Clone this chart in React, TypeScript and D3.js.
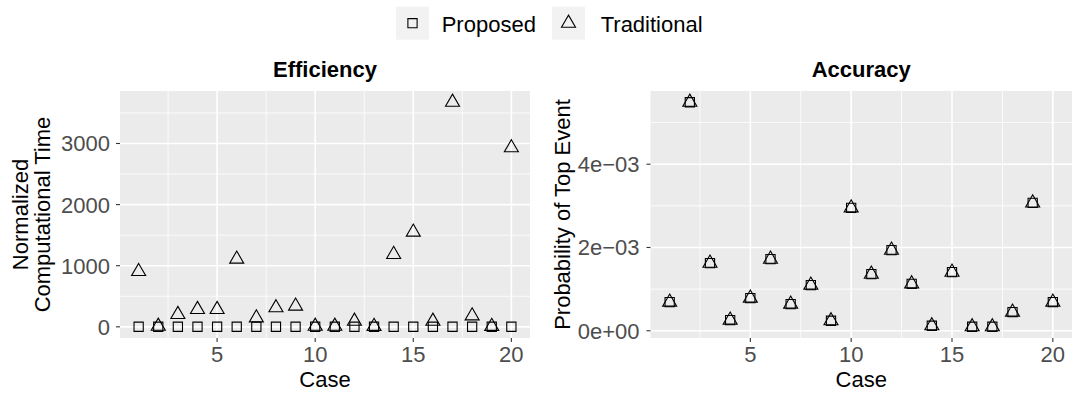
import React from 'react'
import * as d3 from 'd3'

const FONT = '"Liberation Sans", Arial, Helvetica, sans-serif'
const WIDTH = 1072
const HEIGHT = 395

// case numbers shared by both panels
const cases = [1, 2, 3, 4, 5, 6, 7, 8, 9, 10, 11, 12, 13, 14, 15, 16, 17, 18, 19, 20]

// Efficiency: normalized computational time
const proposedTime = [1, 1, 1, 1, 1, 1, 1, 1, 1, 1, 1, 1, 1, 1, 1, 1, 1, 1, 1, 1]
const traditionalTime = [905, 10, 202, 284, 284, 1108, 147, 312, 339, 10, 10, 92, 8, 1185, 1550, 92, 3675, 180, 8, 2930]

// Accuracy: probability of top event
const proposedProb = [0.000688, 0.005488, 0.001624, 0.000256, 0.000784, 0.00172, 0.00064, 0.001096, 0.00024, 0.002952,
  0.00136, 0.001936, 0.001128, 0.00012, 0.001408, 0.000096, 0.000096, 0.000448, 0.00307, 0.000688]
const traditionalProb = [0.000688, 0.005488, 0.001624, 0.000256, 0.000784, 0.00172, 0.00064, 0.001096, 0.00024, 0.002952,
  0.00136, 0.001936, 0.001128, 0.00012, 0.001408, 0.000096, 0.000096, 0.000448, 0.00307, 0.000688]

const xTicks = [5, 10, 15, 20]
const xMinor = [2.5, 7.5, 12.5, 17.5]
const timeTicks = [0, 1000, 2000, 3000]
const timeMinor = [500, 1500, 2500, 3500]
const probTicks = [0, 0.002, 0.004]
const probMinor = [0.001, 0.003, 0.005]

const seriesNames = ['Proposed', 'Traditional']

const squarePath = d3.symbol().type(d3.symbolSquare).size(85)()
const trianglePath = d3.symbol().type(d3.symbolTriangle).size(85)()

const probFormat = (v) => {
  if (v === 0) return '0e+00'
  const s = d3.format('.0e')(v) // e.g. 2e-3
  const [m, e] = s.split('e')
  const n = +e
  return m + 'e' + (n < 0 ? '\u2212' : '+') + String(Math.abs(n)).padStart(2, '0')
}

// ggplot-like 5% expansion of a continuous range
function expanded(values) {
  const [lo, hi] = d3.extent(values)
  const pad = (hi - lo) * 0.05
  return [lo - pad, hi + pad]
}

function Panel({ left, right, top, bottom, title, yTitle, yTitleX, labelRight, series, ticks, minor, fmt }) {
  const x = d3.scaleLinear().domain(expanded(cases)).range([left, right])
  const y = d3.scaleLinear().domain(expanded(series.flat())).range([bottom, top])

  return (
    <g>
      <text x={(left + right) / 2} y={77} textAnchor="middle" fontWeight="bold" fontSize={22} fill="#000">
        {title}
      </text>
      <rect x={left} y={top} width={right - left} height={bottom - top} fill="#EBEBEB" />
      {minor.map((t) => (
        <line key={'ym' + t} x1={left} x2={right} y1={y(t)} y2={y(t)} stroke="#fff" strokeWidth={0.8} />
      ))}
      {xMinor.map((t) => (
        <line key={'xm' + t} x1={x(t)} x2={x(t)} y1={top} y2={bottom} stroke="#fff" strokeWidth={0.8} />
      ))}
      {ticks.map((t) => (
        <line key={'yM' + t} x1={left} x2={right} y1={y(t)} y2={y(t)} stroke="#fff" strokeWidth={1.6} />
      ))}
      {xTicks.map((t) => (
        <line key={'xM' + t} x1={x(t)} x2={x(t)} y1={top} y2={bottom} stroke="#fff" strokeWidth={1.6} />
      ))}

      {series.map((vals, si) => (
        <g key={si}>
          {vals.map((v, i) => (
            <path key={i} d={si === 0 ? squarePath : trianglePath}
              transform={`translate(${x(cases[i])},${y(v)})`}
              fill="none" stroke="#000" strokeWidth={1.1} />
          ))}
        </g>
      ))}

      {/* y axis */}
      {ticks.map((t) => (
        <g key={'yt' + t}>
          <line x1={left - 4} x2={left} y1={y(t)} y2={y(t)} stroke="#333" strokeWidth={1.1} />
          <text x={labelRight} y={y(t)} dy="0.36em" textAnchor="end" fontSize={22} fill="#4D4D4D">{fmt(t)}</text>
        </g>
      ))}
      {/* x axis */}
      {xTicks.map((t) => (
        <g key={'xt' + t}>
          <line x1={x(t)} x2={x(t)} y1={bottom} y2={bottom + 4} stroke="#333" strokeWidth={1.1} />
          <text x={x(t)} y={362} textAnchor="middle" fontSize={22} fill="#4D4D4D">{t}</text>
        </g>
      ))}
      <text x={(left + right) / 2} y={387} textAnchor="middle" fontSize={22} fill="#000">Case</text>
      {yTitle.map((line, li) => (
        <text key={li} transform={`translate(${yTitleX[li]},${(top + bottom) / 2}) rotate(-90)`}
          dy="0.36em" textAnchor="middle" fontSize={22} fill="#000">{line}</text>
      ))}
    </g>
  )
}

export default function App() {
  const keyX = [396, 552]
  const labelX = [441.7, 600.7]
  return (
    <svg width={WIDTH} height={HEIGHT} style={{ position: 'absolute', left: 0, top: 0, background: '#fff' }}
      fontFamily={FONT}>
      {/* legend */}
      {seriesNames.map((name, i) => (
        <g key={name}>
          <rect x={keyX[i]} y={6.7} width={33} height={33} fill="#F2F2F2" />
          <path d={i === 0 ? squarePath : trianglePath} transform={`translate(${keyX[i] + 16.5},${23.2})`}
            fill="none" stroke="#000" strokeWidth={1.1} />
          <text x={labelX[i]} y={32} fontSize={22} fill="#000">{name}</text>
        </g>
      ))}

      <Panel left={120} right={530} top={91} bottom={338}
        title="Efficiency" yTitle={['Normalized', 'Computational Time']} yTitleX={[20, 42]}
        labelRight={110} series={[proposedTime, traditionalTime]}
        ticks={timeTicks} minor={timeMinor} fmt={(v) => String(v)} />

      <Panel left={650.5} right={1072} top={91} bottom={338}
        title="Accuracy" yTitle={['Probability of Top Event']} yTitleX={[562]}
        labelRight={639.5} series={[proposedProb, traditionalProb]}
        ticks={probTicks} minor={probMinor} fmt={probFormat} />
    </svg>
  )
}
